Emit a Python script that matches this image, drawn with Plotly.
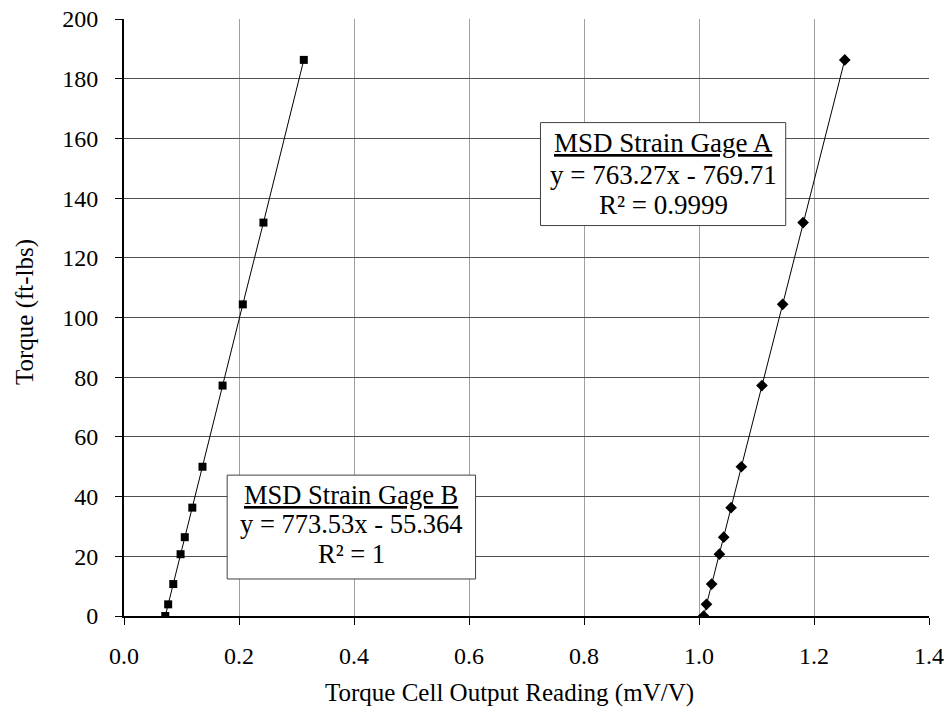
import plotly.graph_objects as go

# Data
torque = [0, 3.9, 10.7, 20.7, 26.4, 36.3, 50.0, 77.2, 104.4, 131.8, 186.3]
gage_b_x = [0.0718, 0.0768, 0.0857, 0.0984, 0.1057, 0.1188, 0.1365, 0.1714, 0.2066, 0.2425, 0.3127]
gage_a_x = [1.008, 1.013, 1.022, 1.0355, 1.043, 1.0558, 1.0737, 1.1095, 1.1455, 1.181, 1.2535]

x_ticks = [0.0, 0.2, 0.4, 0.6, 0.8, 1.0, 1.2, 1.4]
x_tick_labels = ["0.0", "0.2", "0.4", "0.6", "0.8", "1.0", "1.2", "1.4"]
y_ticks = [0, 20, 40, 60, 80, 100, 120, 140, 160, 180, 200]

label_a = ["<u>MSD Strain Gage A</u>", "y = 763.27x - 769.71", "R² = 0.9999"]
label_b = ["<u>MSD Strain Gage B</u>", "y = 773.53x - 55.364", "R² = 1"]
x_title = "Torque Cell Output Reading (mV/V)"
y_title = "Torque (ft-lbs)"

FONT = "Liberation Serif"

fig = go.Figure()
fig.add_trace(go.Scatter(
    x=gage_b_x, y=torque, mode="lines+markers", name="MSD Strain Gage B",
    line=dict(color="black", width=1),
    marker=dict(symbol="square", size=8, color="black"),
))
fig.add_trace(go.Scatter(
    x=gage_a_x, y=torque, mode="lines+markers", name="MSD Strain Gage A",
    line=dict(color="black", width=1),
    marker=dict(symbol="diamond", size=9, color="black"),
))

# Label boxes
fig.add_shape(type="rect", xref="x", yref="y", x0=0.7243, x1=1.1508, y0=130.8, y1=165.3,
              line=dict(color="#404040", width=1), fillcolor="white", layer="above")
fig.add_shape(type="rect", xref="x", yref="y", x0=0.1794, x1=0.6114, y0=12.4, y1=47.2,
              line=dict(color="#404040", width=1), fillcolor="white", layer="above")

for txt, yy in zip(label_a, [158.3, 147.6, 137.6]):
    fig.add_annotation(x=0.9376, y=yy, xref="x", yref="y", text=txt, showarrow=False,
                       font=dict(family=FONT, size=27, color="black"),
                       xanchor="center", yanchor="middle")
for txt, yy in zip(label_b, [40.5, 30.8, 20.9]):
    fig.add_annotation(x=0.3952, y=yy, xref="x", yref="y", text=txt, showarrow=False,
                       font=dict(family=FONT, size=26.5, color="black"),
                       xanchor="center", yanchor="middle")

# Axis titles
fig.add_annotation(x=(509 - 124) / 805, y=-77 / 597, xref="paper", yref="paper",
                   text=x_title, showarrow=False, xanchor="center", yanchor="middle",
                   font=dict(family=FONT, size=25, color="black"))
fig.add_annotation(x=-99 / 805, y=(616 - 312) / 597, xref="paper", yref="paper",
                   text=y_title, showarrow=False, xanchor="center", yanchor="middle",
                   textangle=-90, font=dict(family=FONT, size=25, color="black"))

fig.update_layout(
    width=950, height=708,
    margin=dict(l=124, r=21, t=19, b=92, autoexpand=False),
    paper_bgcolor="white", plot_bgcolor="white",
    showlegend=False,
    font=dict(family=FONT, size=24, color="black"),
    xaxis=dict(
        range=[0, 1.4], tickvals=x_ticks, ticktext=x_tick_labels,
        showgrid=True, gridcolor="#a0a0a0", gridwidth=1,
        showline=True, linecolor="black", linewidth=2,
        ticks="outside", ticklen=7, tickcolor="black", tickwidth=1,
        zeroline=False, automargin=False,
        tickfont=dict(family=FONT, size=24, color="black"),
        ticklabelstandoff=10,
    ),
    yaxis=dict(
        range=[0, 200], tickvals=y_ticks,
        showgrid=True, gridcolor="#505050", gridwidth=1,
        showline=True, linecolor="black", linewidth=2,
        ticks="outside", ticklen=7, tickcolor="black", tickwidth=1,
        zeroline=False, automargin=False,
        tickfont=dict(family=FONT, size=24, color="black"),
        ticklabelstandoff=12,
    ),
)

fig.write_html("out.html")
